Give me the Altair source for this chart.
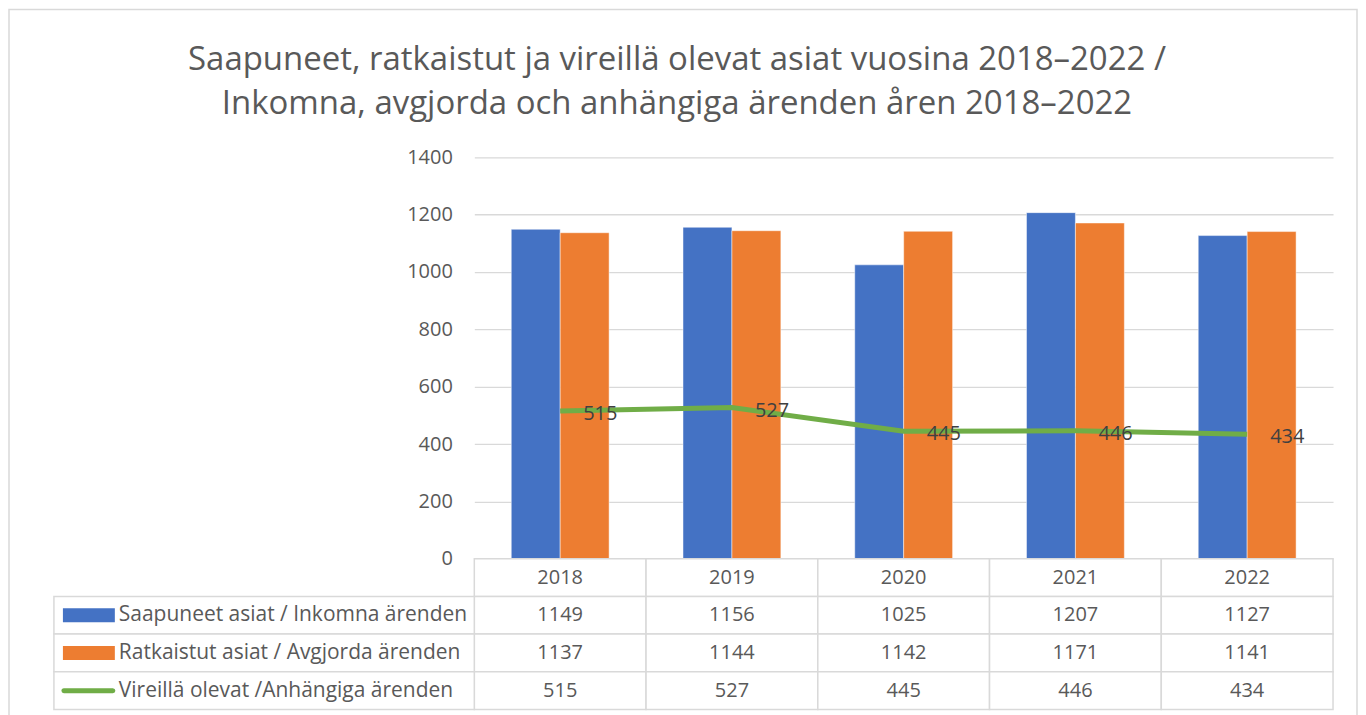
import altair as alt
import pandas as pd

# ---------------- data ----------------
years = ["2018", "2019", "2020", "2021", "2022"]
saapuneet = [1149, 1156, 1025, 1207, 1127]
ratkaistut = [1137, 1144, 1142, 1171, 1141]
vireilla = [515, 527, 445, 446, 434]
series = [
    "Saapuneet asiat / Inkomna ärenden",
    "Ratkaistut asiat / Avgjorda ärenden",
    "Vireillä olevat /Anhängiga ärenden",
]
colors = ["#4472C4", "#ED7D31", "#70AD47"]
y_ticks = [0, 200, 400, 600, 800, 1000, 1200, 1400]
title_lines = [
    "Saapuneet, ratkaistut ja vireillä olevat asiat vuosina 2018–2022 /",
    "Inkomna, avgjorda och anhängiga ärenden åren 2018–2022",
]

FONT = "Open Sans"
TXT = "#595959"
GRID = "#D9D9D9"
W = 860

bars_df = pd.DataFrame({
    "year": years * 2,
    "series": [series[0]] * len(years) + [series[1]] * len(years),
    "value": saapuneet + ratkaistut,
})
line_df = pd.DataFrame({"year": years, "value": vireilla})
table_df = pd.DataFrame({
    "year": years * 3,
    "row": [s for s in series for _ in years],
    "value": saapuneet + ratkaistut + vireilla,
})
year_row_df = pd.DataFrame({"year": years, "row": ["year"] * len(years)})
cells_df = pd.concat([year_row_df, table_df[["year", "row"]]], ignore_index=True)
header_df = pd.DataFrame({"row": series})
one_df = pd.DataFrame({"k": [0]})

x_scale = alt.Scale(domain=years, paddingInner=0, paddingOuter=0)
color_scale = alt.Scale(domain=series, range=colors)

# ---------------- top chart ----------------
x_top = alt.X("year:N", scale=x_scale, axis=None)
y_top = alt.Y(
    "value:Q",
    scale=alt.Scale(domain=[0, 1400], nice=False),
    axis=alt.Axis(
        values=y_ticks, title=None, domain=False, ticks=False, format="d",
        labelPadding=22, labelFontSize=20, labelFont=FONT, labelColor=TXT,
        gridColor=GRID, gridWidth=1.3,
    ),
)

bars = alt.Chart(bars_df).mark_bar(stroke="white", strokeWidth=0.8, strokeOpacity=0.6).encode(
    x=x_top,
    xOffset=alt.XOffset("series:N", scale=alt.Scale(domain=series[:2], paddingInner=0, paddingOuter=0.755)),
    y=y_top,
    color=alt.Color("series:N", scale=color_scale, legend=None),
)
line = alt.Chart(line_df).mark_line(color=colors[2], strokeWidth=5).encode(x=x_top, y=y_top)
labels = alt.Chart(line_df).mark_text(
    align="left", baseline="middle", dx=23, dy=3, fontSize=20, font=FONT, color="#404040"
).encode(x=x_top, y=y_top, text="value:Q")

top = alt.layer(bars, line, labels).properties(
    width=W,
    height=402,
    title=alt.TitleParams(
        text=title_lines, fontSize=33, font=FONT, color=TXT, fontWeight="normal",
        lineHeight=44, anchor="middle", frame="group", dx=-227, offset=26,
    ),
)

# ---------------- data table ----------------
xt = alt.X("year:N", scale=x_scale, axis=None)
yt = alt.Y("row:N", scale=alt.Scale(domain=["year"] + series, paddingInner=0, paddingOuter=0), axis=None)

frame = alt.Chart(one_df).mark_rect(fillOpacity=0, stroke=GRID, strokeWidth=1.5).encode(
    x=alt.value(-466), x2=alt.value(884), y=alt.value(-550), y2=alt.value(170)
)
cells = alt.Chart(cells_df).mark_rect(fill="white", stroke=GRID, strokeWidth=1.5).encode(x=xt, y=yt)
hcells = alt.Chart(header_df).mark_rect(fill="white", stroke=GRID, strokeWidth=1.5).encode(
    x=alt.value(-421), x2=alt.value(0), y=yt
)
year_text = alt.Chart(year_row_df).mark_text(fontSize=20, font=FONT, color=TXT).encode(x=xt, y=yt, text="year:N")
value_text = alt.Chart(table_df).mark_text(fontSize=20, font=FONT, color=TXT).encode(x=xt, y=yt, text="value:Q")
header_text = alt.Chart(header_df).mark_text(align="left", fontSize=21, font=FONT, color=TXT).encode(
    x=alt.value(-356), y=yt, text="row:N"
)
sym_bar = alt.Chart(header_df.iloc[:2]).mark_rule(strokeWidth=14).encode(
    x=alt.value(-412), x2=alt.value(-360), y=yt,
    color=alt.Color("row:N", scale=color_scale, legend=None),
)
sym_line = alt.Chart(header_df.iloc[2:]).mark_rule(strokeWidth=5, strokeCap="round").encode(
    x=alt.value(-411), x2=alt.value(-362), y=yt,
    color=alt.Color("row:N", scale=color_scale, legend=None),
)

table = alt.layer(frame, cells, hcells, year_text, value_text, header_text, sym_bar, sym_line).properties(
    width=W, height=151
)

chart = alt.vconcat(top, table, spacing=0, bounds="flush").resolve_scale(
    x="independent", y="independent", color="independent"
).properties(
    padding={"left": 0, "top": 0, "right": 0, "bottom": 0}
).configure_view(strokeWidth=0)

chart.save("out.html", embed_options={"renderer": "svg", "actions": False})
